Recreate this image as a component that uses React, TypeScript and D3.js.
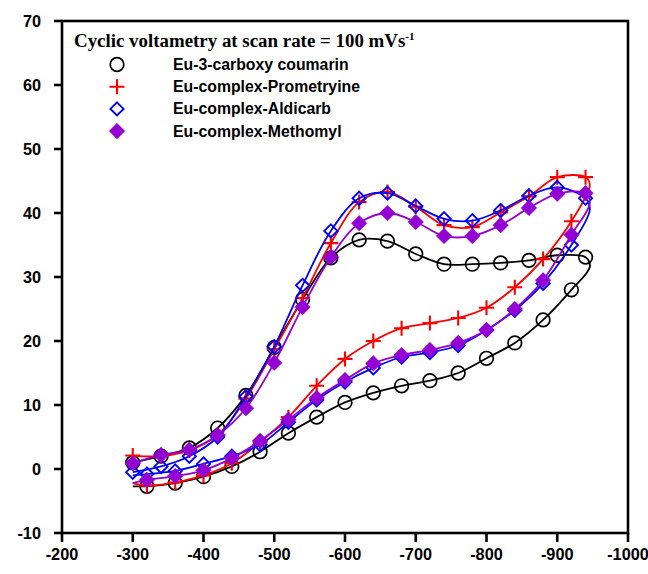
import React from "react";
import * as d3 from "d3";

const LOWER_E = [-300, -320, -360, -400, -440, -480, -520, -560, -600, -640, -680, -720, -760, -800, -840, -880, -920];
const TURN_E = -946;
const UPPER_E = [-940, -900, -860, -820, -780, -740, -700, -660, -620, -580, -540, -500, -460, -420, -380, -340, -300];

const X_TICKS = [-200, -300, -400, -500, -600, -700, -800, -900, -1000];
const Y_TICKS = [-10, 0, 10, 20, 30, 40, 50, 60, 70];

const coumarinLower = [-2.7, -2.7, -2.2, -1.2, 0.4, 2.7, 5.6, 8.1, 10.4, 11.9, 13.0, 13.8, 15.0, 17.3, 19.7, 23.3, 28.0];
const coumarinTurn = 31.6;
const coumarinUpper = [33.1, 33.4, 32.6, 32.2, 32.0, 32.0, 33.6, 35.6, 35.8, 33.0, 26.5, 19.0, 11.5, 6.4, 3.3, 2.0, 1.0];

const prometryneLower = [-2.2, -2.6, -2.1, -1.0, 0.9, 4.2, 8.1, 13.0, 17.2, 20.0, 22.0, 22.8, 23.6, 25.2, 28.4, 32.8, 38.7];
const prometryneTurn = 44.4;
const prometryneUpper = [45.6, 45.6, 42.6, 40.1, 37.8, 38.1, 41.0, 43.3, 41.7, 35.3, 26.7, 18.7, 11.0, 5.3, 2.9, 2.0, 2.1];

const aldicarbLower = [-1.0, -0.8, -0.3, 0.8, 2.0, 3.8, 7.3, 10.8, 13.6, 15.8, 17.5, 18.2, 19.3, 21.7, 24.8, 29.0, 35.0];
const aldicarbTurn = 40.5;
const aldicarbUpper = [42.3, 44.0, 42.7, 40.4, 38.8, 39.1, 41.1, 43.1, 42.3, 37.2, 28.7, 19.1, 11.3, 5.0, 2.0, 0.4, -0.5];

const methomylLower = [-2.2, -1.7, -1.1, -0.2, 1.7, 4.4, 7.7, 11.1, 13.9, 16.5, 17.8, 18.6, 19.7, 21.7, 25.0, 29.5, 36.6];
const methomylTurn = 41.5;
const methomylUpper = [43.1, 43.0, 40.8, 38.1, 36.4, 36.4, 38.6, 40.0, 38.4, 33.1, 25.3, 16.6, 9.5, 5.3, 3.0, 2.2, 0.9];

const LEGEND_TITLE = "Cyclic voltametry at scan rate = 100 mVs";

type Series = { name: string; color: string; marker: string; lower: number[]; turn: number; upper: number[] };

const SERIES: Series[] = [
  { name: "Eu-3-carboxy coumarin", color: "#000000", marker: "circle", lower: coumarinLower, turn: coumarinTurn, upper: coumarinUpper },
  { name: "Eu-complex-Prometryine", color: "#ff0000", marker: "plus", lower: prometryneLower, turn: prometryneTurn, upper: prometryneUpper },
  { name: "Eu-complex-Aldicarb", color: "#0000ff", marker: "diamondOpen", lower: aldicarbLower, turn: aldicarbTurn, upper: aldicarbUpper },
  { name: "Eu-complex-Methomyl", color: "#9400d3", marker: "diamondFilled", lower: methomylLower, turn: methomylTurn, upper: methomylUpper },
];

const W = 648;
const H = 574;
const L = 62, R = 628, T = 21, B = 533;

const x = d3.scaleLinear().domain([-200, -1000]).range([L, R]);
const y = d3.scaleLinear().domain([-10, 70]).range([B, T]);

function Marker({ kind, cx, cy, color }: { kind: string; cx: number; cy: number; color: string }) {
  if (kind === "circle") {
    return <circle cx={cx} cy={cy} r={6.8} fill="none" stroke={color} strokeWidth={1.7} />;
  }
  if (kind === "plus") {
    const s = 7.5;
    return (
      <path d={`M${cx - s},${cy}H${cx + s}M${cx},${cy - s}V${cy + s}`} stroke={color} strokeWidth={2.1} fill="none" />
    );
  }
  const s = kind === "diamondOpen" ? 6.6 : 7.8;
  const d = `M${cx},${cy - s}L${cx + s},${cy}L${cx},${cy + s}L${cx - s},${cy}Z`;
  if (kind === "diamondOpen") {
    return <path d={d} fill="none" stroke={color} strokeWidth={1.9} />;
  }
  return <path d={d} fill={color} stroke={color} strokeWidth={0.5} />;
}

export default function App() {
  const line = d3
    .line<[number, number]>()
    .x((d) => x(d[0]))
    .y((d) => y(d[1]))
    .curve(d3.curveCatmullRom.alpha(0.5));

  const font = "'Liberation Sans', Arial, sans-serif";

  return (
    <svg width={W} height={H} style={{ display: "block", position: "absolute", left: 0, top: 0, background: "#fff" }}>
      <rect x={0} y={0} width={W} height={H} fill="#fff" />
      {SERIES.map((s) => {
        const pts: [number, number][] = [];
        LOWER_E.forEach((e, i) => pts.push([e, s.lower[i]]));
        pts.push([TURN_E, s.turn]);
        UPPER_E.forEach((e, i) => pts.push([e, s.upper[i]]));
        const marks: [number, number][] = [];
        LOWER_E.forEach((e, i) => { if (i > 0) marks.push([e, s.lower[i]]); });
        UPPER_E.forEach((e, i) => marks.push([e, s.upper[i]]));
        return (
          <g key={s.name}>
            <path d={line(pts) || ""} fill="none" stroke={s.color} strokeWidth={1.8} />
            {marks.map((m, i) => (
              <Marker key={i} kind={s.marker} cx={x(m[0])} cy={y(m[1])} color={s.color} />
            ))}
          </g>
        );
      })}
      {/* frame */}
      <rect x={L} y={T} width={R - L} height={B - T} fill="none" stroke="#000" strokeWidth={2.6} />
      {/* y ticks */}
      {Y_TICKS.map((t) => (
        <g key={"y" + t}>
          <line x1={L - 8} x2={L} y1={y(t)} y2={y(t)} stroke="#000" strokeWidth={2.6} />
          <text x={L - 21} y={y(t) + 6} textAnchor="end" fontFamily={font} fontWeight="bold" fontSize={16.3}>
            {t}
          </text>
        </g>
      ))}
      {/* x ticks */}
      {X_TICKS.map((t) => (
        <g key={"x" + t}>
          <line x1={x(t)} x2={x(t)} y1={B} y2={B + 9} stroke="#000" strokeWidth={2.6} />
          <text x={x(t)} y={B + 27} textAnchor="middle" fontFamily={font} fontWeight="bold" fontSize={16.3}>
            {t}
          </text>
        </g>
      ))}
      {/* legend */}
      <text x={74} y={47} fontFamily="'Liberation Serif', 'Times New Roman', serif" fontWeight="bold" fontSize={18.9}>
        {LEGEND_TITLE}
        <tspan dy={-7} fontSize={11}>-1</tspan>
      </text>
      {SERIES.map((s, i) => {
        const cy = 64.5 + i * 22.2;
        return (
          <g key={"leg" + s.name}>
            <Marker kind={s.marker} cx={117} cy={cy} color={s.color} />
            <text x={173} y={cy + 5.5} fontFamily={font} fontWeight="bold" fontSize={15.8}>
              {s.name}
            </text>
          </g>
        );
      })}
    </svg>
  );
}
